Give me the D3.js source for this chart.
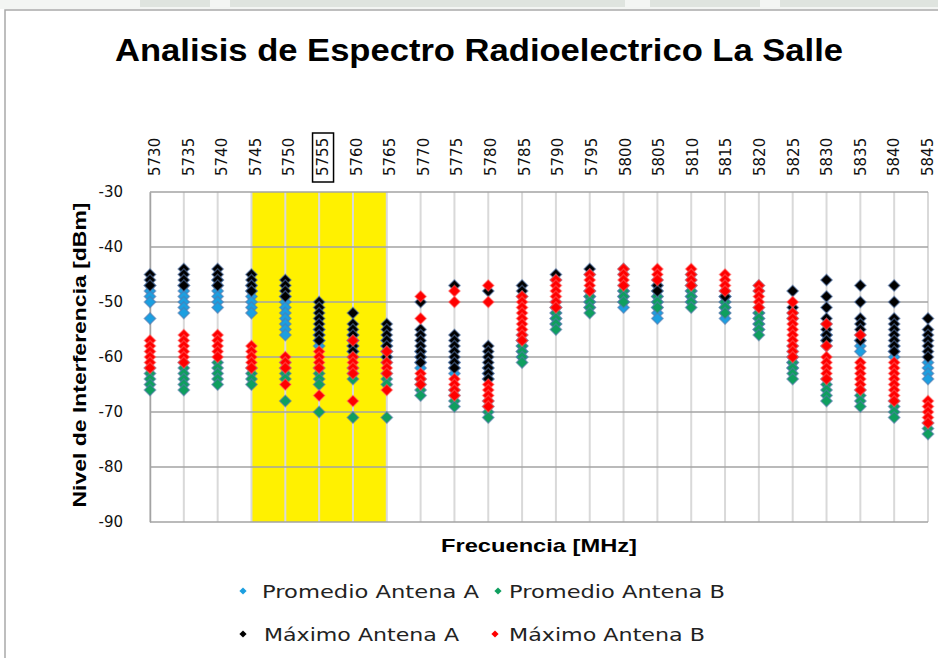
<!DOCTYPE html>
<html>
<head>
<meta charset="utf-8">
<script src="https://cdn.jsdelivr.net/npm/d3@7"></script>
<style>
  body { margin: 0; background: #ffffff; }
  svg { display: block; }
</style>
</head>
<body>
<svg id="chart" width="938" height="658"></svg>
<script>
// Frequencies (MHz) shown along the top axis
const categories = [5730, 5735, 5740, 5745, 5750, 5755, 5760, 5765, 5770, 5775, 5780, 5785,
                    5790, 5795, 5800, 5805, 5810, 5815, 5820, 5825, 5830, 5835, 5840, 5845];
const yTicks = [-30, -40, -50, -60, -70, -80, -90];
const bandFrom = 5745, bandTo = 5765;   // highlighted channel range
const markedFreq = 5755;                // boxed frequency label

// Interference levels (dBm) sampled at each frequency, one list per frequency
const promedioA = [
  [-47,-48,-49,-50,-53], [-47,-48,-49,-50,-51,-52], [-46,-47,-48,-49,-50,-51], [-47,-48,-49,-50,-51,-52],
  [-49,-50,-51,-52,-53,-54,-55,-56], [-55,-56,-57,-58], [-56,-57,-58,-59], [-57,-58,-59,-60],
  [-59,-60,-61,-62], [-61,-62,-63], [-62,-63,-64], [-56,-57,-58,-59,-60],
  [-50,-51,-52,-53,-54], [-48,-49,-50,-51], [-48,-49,-50,-51], [-49,-50,-51,-52,-53],
  [-47,-48,-49,-50], [-49,-50,-51,-52,-53], [-52,-53,-54,-55], [-58,-59,-60,-61,-62],
  [-56,-57,-58], [-57,-58,-59], [-58,-59,-60], [-61,-62,-63,-64]
];
const promedioB = [
  [-62,-63,-64,-65,-66], [-61,-62,-63,-64,-65,-66], [-61,-62,-63,-64,-65], [-62,-63,-64,-65],
  [-61,-62,-63,-64,-68], [-62,-63,-64,-65,-70], [-62,-63,-64,-71], [-63,-64,-65,-71],
  [-64,-65,-66,-67], [-66,-67,-68,-69], [-68,-69,-70,-71], [-57,-58,-59,-60,-61],
  [-51,-52,-53,-54,-55], [-48,-49,-50,-51,-52], [-47,-48,-49,-50], [-47,-48,-49,-50,-51],
  [-47,-48,-49,-50,-51], [-49,-50,-51,-52], [-51,-52,-53,-54,-55,-56], [-60,-61,-62,-63,-64],
  [-64,-65,-66,-67,-68], [-66,-67,-68,-69], [-68,-69,-70,-71], [-72,-73,-74]
];
const maximoA = [
  [-45,-46,-47], [-44,-45,-46,-47], [-44,-45,-46,-47], [-45,-46,-47,-48],
  [-46,-47,-48,-49], [-50,-51,-52,-53,-54,-55,-56,-57], [-52,-54,-55,-56,-57,-58,-59,-60], [-54,-55,-56,-57,-58,-59,-60,-61],
  [-50,-55,-56,-57,-58,-59,-60,-61], [-47,-56,-57,-58,-59,-60,-61,-62], [-48,-58,-59,-60,-61,-62,-63,-64], [-47,-48,-49],
  [-45,-46], [-44,-45], [-44,-45], [-46,-47,-48],
  [-45,-46], [-48,-49], [-47,-48], [-48,-51,-52,-53],
  [-46,-49,-51,-53,-54,-55,-56,-57], [-47,-50,-53,-54,-55,-56,-57], [-47,-50,-53,-54,-55,-56,-57,-58,-59], [-53,-55,-56,-57,-58,-59,-60]
];
const maximoB = [
  [-57,-58,-59,-60,-61,-62], [-56,-57,-58,-59,-60,-61], [-56,-57,-58,-59,-60], [-58,-59,-60,-61,-62],
  [-60,-61,-62,-65], [-59,-60,-61,-62,-67], [-57,-60,-61,-62,-63,-68], [-59,-61,-62,-63,-66],
  [-49,-53,-63,-64,-65], [-48,-50,-64,-65,-66,-67], [-47,-50,-65,-66,-67,-68,-69], [-49,-50,-51,-52,-53,-54,-55,-56,-57],
  [-46,-47,-48,-49,-50,-51], [-45,-46,-47,-48], [-44,-45,-46,-47], [-44,-45,-46],
  [-44,-45,-46,-47], [-45,-46,-47,-48], [-47,-48,-49,-50,-51], [-50,-52,-53,-54,-55,-56,-57,-58,-59,-60],
  [-54,-58,-60,-61,-62,-63,-64], [-56,-61,-62,-63,-64,-65,-66], [-61,-62,-63,-64,-65,-66,-67,-68], [-68,-69,-70,-71,-72]
];

const seriesNames = ["Promedio Antena A", "Promedio Antena B", "Máximo Antena A", "Máximo Antena B"];
const seriesColors = ["#1c9fe0", "#0f9f5f", "#000000", "#ff0000"];
const seriesData = [promedioA, promedioB, maximoA, maximoB];

const svg = d3.select("#chart");
const plot = { left: 150, right: 928, top: 192, bottom: 522 };

const x = d3.scalePoint().domain(categories).range([plot.left, plot.right]);
const labelX = d3.scalePoint().domain(categories).range([155, 928]);
const y = d3.scaleLinear().domain([-90, -30]).range([plot.bottom, plot.top]);

// faint page strip above the chart frame
const strip = svg.append("g");
strip.append("rect").attr("x", 0).attr("y", 0).attr("width", 938).attr("height", 9).attr("fill", "#f3f5f3");
[[140, 70], [230, 395], [650, 110], [780, 158]].forEach(([sx, sw]) => {
  strip.append("rect").attr("x", sx).attr("y", 0).attr("width", sw).attr("height", 7)
    .attr("fill", "#dfe4df");
});

// chart frame
svg.append("path").attr("d", "M5,658 V10 H938")
  .attr("fill", "none").attr("stroke", "#a9a9a9").attr("stroke-width", 1.5);

// title
svg.append("text")
  .attr("x", 479).attr("y", 61)
  .attr("text-anchor", "middle")
  .attr("font-family", "'Liberation Sans Narrow', 'Liberation Sans', Arial, sans-serif")
  .attr("font-weight", "bold")
  .attr("font-size", 31)
  .attr("textLength", 728).attr("lengthAdjust", "spacingAndGlyphs")
  .attr("fill", "#000")
  .text("Analisis de Espectro Radioelectrico La Salle");

// highlighted band
svg.append("rect")
  .attr("x", x(bandFrom)).attr("y", plot.top)
  .attr("width", x(bandTo) - x(bandFrom)).attr("height", plot.bottom - plot.top)
  .attr("fill", "#fff100");

// vertical gridlines, one per frequency
svg.append("g").selectAll("line").data(categories).join("line")
  .attr("x1", d => x(d)).attr("x2", d => x(d))
  .attr("y1", plot.top).attr("y2", plot.bottom)
  .attr("stroke", "#d9d9d9").attr("stroke-width", 2);

// horizontal gridlines
svg.append("g").selectAll("line").data(yTicks).join("line")
  .attr("x1", plot.left).attr("x2", plot.right)
  .attr("y1", d => y(d)).attr("y2", d => y(d))
  .attr("stroke", "#a3a3a3").attr("stroke-width", 1.5);

// value axis
const yAxis = svg.append("g")
  .attr("transform", `translate(${plot.left},0)`)
  .call(d3.axisLeft(y).tickValues(yTicks).tickSize(0).tickPadding(27).tickFormat(d => String(d)));
yAxis.select(".domain").attr("stroke", "#a3a3a3").attr("stroke-width", 1.5);
yAxis.selectAll("text")
  .attr("font-family", "'DejaVu Sans', Verdana, sans-serif")
  .attr("font-size", 15).attr("fill", "#111");

// frequency labels along the top, rotated
const xLabels = svg.append("g");
xLabels.selectAll("text").data(categories).join("text")
  .attr("transform", d => `translate(${labelX(d)},176) rotate(-90)`)
  .attr("text-anchor", "start")
  .attr("dominant-baseline", "central")
  .attr("font-family", "'DejaVu Sans', Verdana, sans-serif")
  .attr("font-size", 15).attr("fill", "#111")
  .text(d => d);
xLabels.append("rect")
  .attr("x", labelX(markedFreq) - 10.5).attr("y", 133)
  .attr("width", 21).attr("height", 49)
  .attr("fill", "none").attr("stroke", "#000").attr("stroke-width", 1.5);

// axis titles
svg.append("text")
  .attr("transform", "translate(79,355) rotate(-90)")
  .attr("text-anchor", "middle").attr("dominant-baseline", "central")
  .attr("font-family", "'Liberation Sans Narrow', 'Liberation Sans', Arial, sans-serif")
  .attr("font-weight", "bold").attr("font-size", 19)
  .attr("textLength", 305).attr("lengthAdjust", "spacingAndGlyphs")
  .text("Nivel de Interferencia [dBm]");
svg.append("text")
  .attr("x", 539).attr("y", 552)
  .attr("text-anchor", "middle")
  .attr("font-family", "'Liberation Sans Narrow', 'Liberation Sans', Arial, sans-serif")
  .attr("font-weight", "bold").attr("font-size", 19)
  .attr("textLength", 196).attr("lengthAdjust", "spacingAndGlyphs")
  .text("Frecuencia [MHz]");

// diamond markers
const diamond = d3.symbol().type(d3.symbolSquare).size(66);
seriesData.forEach((series, si) => {
  const pts = [];
  series.forEach((vals, ci) => vals.forEach(v => pts.push({ f: categories[ci], v })));
  svg.append("g").selectAll("path").data(pts).join("path")
    .attr("d", diamond)
    .attr("transform", d => `translate(${x(d.f)},${y(d.v)}) rotate(45)`)
    .attr("fill", seriesColors[si])
    .attr("stroke", si === 3 ? "#ff6a6a" : "#5679ad")
    .attr("stroke-opacity", si === 3 ? 0.45 : 0.55)
    .attr("stroke-width", 1.4);
});

// legend
const legendItems = [
  { name: seriesNames[0], color: seriesColors[0], mx: 243, tx: 262, ty: 591, len: 217 },
  { name: seriesNames[1], color: seriesColors[1], mx: 498, tx: 509, ty: 591, len: 216 },
  { name: seriesNames[2], color: seriesColors[2], mx: 243, tx: 264, ty: 634, len: 195 },
  { name: seriesNames[3], color: seriesColors[3], mx: 495, tx: 509, ty: 634, len: 196 }
];
const legendMark = d3.symbol().type(d3.symbolSquare).size(26);
const legend = svg.append("g");
legendItems.forEach(item => {
  legend.append("path").attr("d", legendMark)
    .attr("transform", `translate(${item.mx},${item.ty}) rotate(45)`)
    .attr("fill", item.color);
  legend.append("text")
    .attr("x", item.tx).attr("y", item.ty + 6.5)
    .attr("font-family", "'DejaVu Sans', Verdana, sans-serif")
    .attr("font-size", 18).attr("fill", "#222")
    .attr("textLength", item.len).attr("lengthAdjust", "spacingAndGlyphs")
    .text(item.name);
});
</script>
</body>
</html>
